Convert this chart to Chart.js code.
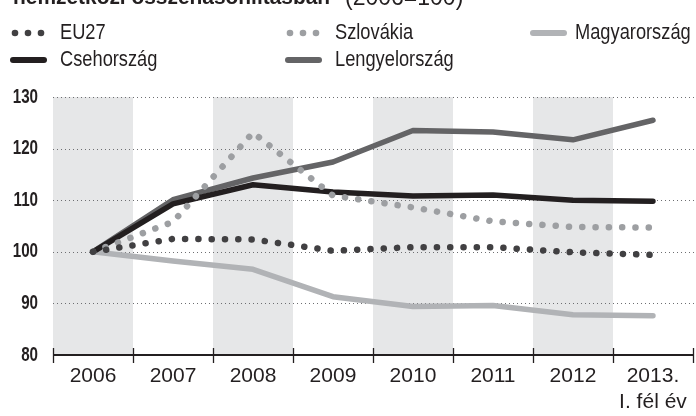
<!DOCTYPE html>
<html>
<head>
<meta charset="utf-8">
<script src="https://cdn.jsdelivr.net/npm/chart.js@4/dist/chart.umd.min.js"></script>
<style>
  html, body { margin: 0; padding: 0; background: #fff; }
  #wrap { position: relative; width: 696px; height: 416px; overflow: hidden; }
  #chart { position: absolute; left: 0; top: 0; }
  .tt { position: absolute; top: -16px; white-space: nowrap; font-family: "Liberation Sans", sans-serif; font-size: 22px; color: #231f20; transform-origin: 0 0; }
  #tb { left: 13px; font-weight: 900; transform: scaleX(0.95); }
  #tr { left: 345px; font-size: 23px; }
  .lg { position: absolute; font-family: "Liberation Sans", sans-serif; font-size: 22px; color: #231f20; white-space: nowrap; line-height: 26px; transform: scaleX(0.83); transform-origin: 0 0; }
  .sym { position: absolute; }
</style>
</head>
<body>
<div id="wrap">
  <canvas id="chart" width="696" height="416"></canvas>
  <div id="tb" class="tt">nemzetközi összehasonlításban</div>
  <div id="tr" class="tt">(2006=100)</div>
  <div id="legend"></div>
</div>
<script>
// ---- data ----
const categories = ["2006", "2007", "2008", "2009", "2010", "2011", "2012", ["2013.", "I. fél év"]];
const seriesNames = ["EU27", "Szlovákia", "Magyarország", "Csehország", "Lengyelország"];
const eu27 =        [100, 102.5, 102.4, 100.2, 100.9, 100.9, 99.9, 99.4];
const szlovakia =   [100, 105.8, 123.1, 110.9, 108.6, 105.9, 104.8, 104.7];
const magyarorszag =[100, 98.2, 96.6, 91.3, 89.4, 89.6, 87.8, 87.6];
const csehorszag =  [100, 109.3, 113.0, 111.6, 110.8, 111.0, 110.0, 109.8];
const lengyelorszag=[100, 110.1, 114.3, 117.4, 123.5, 123.2, 121.7, 125.5];
const yTicks = [80, 90, 100, 110, 120, 130];

const colors = {
  "EU27": "#414042",
  "Szlovákia": "#9d9fa2",
  "Magyarország": "#b1b3b6",
  "Csehország": "#231f20",
  "Lengyelország": "#646466"
};
const dotted = { "EU27": true, "Szlovákia": true };

// ---- HTML legend ----
const legendItems = [
  { name: "EU27", x: 10, tx: 60, y: 33 },
  { name: "Szlovákia", x: 285, tx: 335, y: 33 },
  { name: "Magyarország", x: 530, tx: 575, y: 33 },
  { name: "Csehország", x: 10, tx: 60, y: 60 },
  { name: "Lengyelország", x: 285, tx: 335, y: 60 }
];
const lg = document.getElementById("legend");
legendItems.forEach(it => {
  const c = colors[it.name];
  let svg;
  if (dotted[it.name]) {
    svg = `<svg class="sym" width="40" height="10" style="left:${it.x}px;top:${it.y-5}px">
      <circle cx="5" cy="5" r="3.3" fill="${c}"/><circle cx="18" cy="5" r="3.3" fill="${c}"/><circle cx="31" cy="5" r="3.3" fill="${c}"/></svg>`;
  } else {
    svg = `<svg class="sym" width="40" height="10" style="left:${it.x}px;top:${it.y-5}px">
      <line x1="3" y1="5" x2="34" y2="5" stroke="${c}" stroke-width="6" stroke-linecap="round"/></svg>`;
  }
  lg.insertAdjacentHTML("beforeend", svg +
    `<div class="lg" style="left:${it.tx}px;top:${it.y - 14}px">${it.name}</div>`);
});

// ---- bands & ticks plugin ----
const decor = {
  id: "decor",
  beforeDatasetsDraw(chart) {
    const { ctx, chartArea, scales } = chart;
    const x = scales.x, y = scales.y;
    const half = (x.getPixelForValue(1) - x.getPixelForValue(0)) / 2;
    ctx.save();
    ctx.fillStyle = "#e6e7e8";
    for (let i = 0; i < categories.length; i += 2) {
      const cx = x.getPixelForValue(i);
      ctx.fillRect(cx - half, y.getPixelForValue(130), half * 2, y.getPixelForValue(80) - y.getPixelForValue(130));
    }
    // dotted grid
    ctx.strokeStyle = "#6d6e71";
    ctx.lineWidth = 1;
    ctx.setLineDash([1, 3]);
    yTicks.forEach(v => {
      if (v === 80) return;
      const py = Math.round(y.getPixelForValue(v)) + 0.5;
      ctx.beginPath();
      ctx.moveTo(chartArea.left, py);
      ctx.lineTo(chartArea.right + 2, py);
      ctx.stroke();
    });
    ctx.setLineDash([]);
    // axis line and ticks
    const ay = y.getPixelForValue(80);
    ctx.strokeStyle = "#231f20";
    ctx.lineWidth = 2;
    ctx.beginPath();
    ctx.moveTo(chartArea.left, ay);
    ctx.lineTo(chartArea.right + 1, ay);
    ctx.stroke();
    ctx.lineWidth = 1.3;
    for (let i = 0; i <= categories.length; i++) {
      const bx = Math.round(x.getPixelForValue(i) - half) + 0.5;
      ctx.beginPath();
      ctx.moveTo(bx, ay - 7);
      ctx.lineTo(bx, ay + 8);
      ctx.stroke();
    }
    ctx.restore();
  }
};

function ds(name, data) {
  const isDot = !!dotted[name];
  return {
    label: name,
    data: data,
    borderColor: colors[name],
    backgroundColor: colors[name],
    borderWidth: isDot ? 6.5 : 5.5,
    borderDash: isDot ? [0.1, 13.2] : [],
    borderCapStyle: "round",
    borderJoinStyle: "round",
    pointRadius: 0,
    tension: 0,
    fill: false
  };
}

// condensed rendering of the y tick labels (narrow bold face)
const LABEL_RIGHT = 38;
function condenseY(scale) {
  if (scale._condensed) return;
  scale._condensed = true;
  const orig = scale.drawLabels.bind(scale);
  scale.drawLabels = function (area) {
    const ctx = scale.ctx;
    ctx.save();
    ctx.translate(LABEL_RIGHT, 0);
    ctx.scale(0.74, 1);
    ctx.translate(-LABEL_RIGHT, 0);
    orig(area);
    ctx.restore();
  };
}

new Chart(document.getElementById("chart"), {
  type: "line",
  data: {
    labels: categories,
    datasets: [
      ds("EU27", eu27),
      ds("Szlovákia", szlovakia),
      ds("Csehország", csehorszag),
      ds("Lengyelország", lengyelorszag),
      ds("Magyarország", magyarorszag)
    ]
  },
  options: {
    responsive: false,
    animation: false,
    layout: { padding: { top: 97, left: 0, right: 3, bottom: 0 } },
    plugins: { legend: { display: false }, tooltip: { enabled: false }, title: { display: false } },
    scales: {
      x: {
        offset: true,
        grid: { display: false, drawTicks: false },
        border: { display: false },
        ticks: {
          color: "#231f20",
          font: { family: "Liberation Sans", size: 21 },
          padding: 9,
          maxRotation: 0,
          autoSkip: false
        },
        afterFit(s) { s.height = 61; }
      },
      y: {
        min: 80, max: 130,
        grid: { display: false, drawTicks: false },
        border: { display: false },
        ticks: {
          stepSize: 10,
          color: "#231f20",
          font: { family: "Liberation Sans", size: 20.5, weight: "bold" },
          padding: 15
        },
        afterFit(s) { s.width = 53; condenseY(s); }
      }
    }
  },
  plugins: [decor]
});
</script>
</body>
</html>
